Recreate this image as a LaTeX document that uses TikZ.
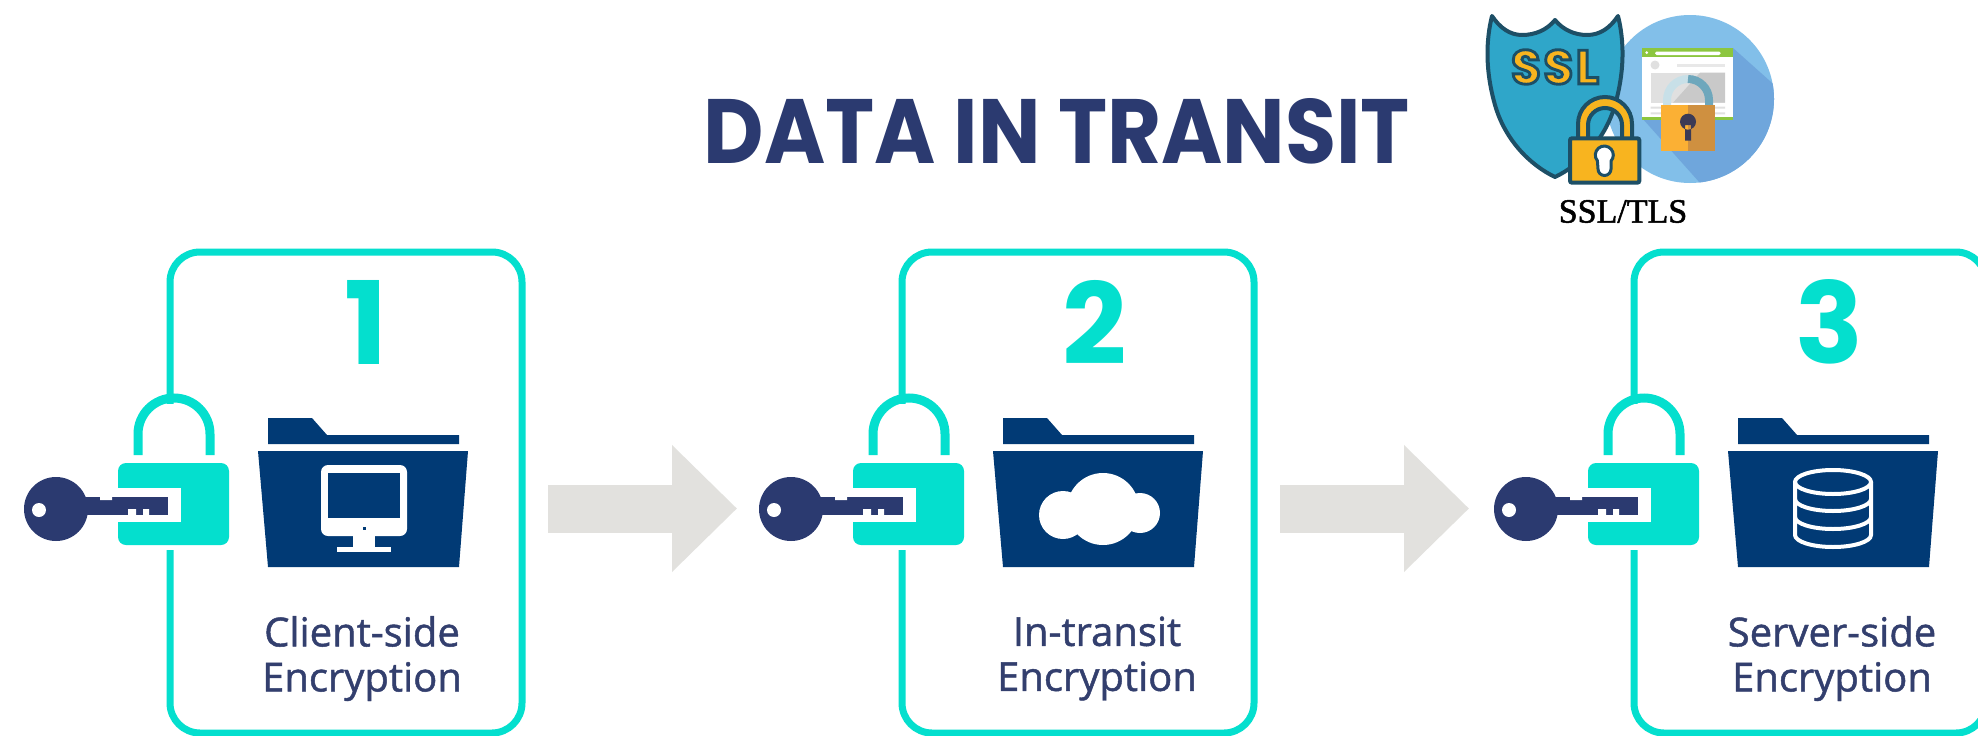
\documentclass[tikz,border=0pt]{standalone}
\usepackage{fontspec}
\usepackage{graphicx}
\usetikzlibrary{arrows.meta}
\setmainfont{Open Sans}
\newfontfamily\headfont{Poppins}
\newfontfamily\sslfont[BoldFeatures={FakeBold=6},LetterSpace=6]{Poppins}
\newfontfamily\labelfont[FakeBold=1.2]{Open Sans}
\newfontfamily\tlsfont[FakeBold=1.5]{Liberation Serif}
\definecolor{teal}{HTML}{04DFCE}
\definecolor{navy}{HTML}{2B3A70}
\definecolor{folder}{HTML}{013A75}
\definecolor{label}{HTML}{333F6E}
\definecolor{flowgray}{HTML}{E2E1DE}
\definecolor{sslblue}{HTML}{2FA6C9}
\definecolor{ssldark}{HTML}{1D4F66}
\definecolor{sslgold}{HTML}{F8B41F}
\definecolor{skyblue}{HTML}{82BFE9}
\definecolor{skyshadow}{HTML}{6FA6DC}
\definecolor{browsergreen}{HTML}{8CC63F}
\definecolor{smallgold}{HTML}{FBB034}
\definecolor{smallbrown}{HTML}{CF9040}
\definecolor{smallhole}{HTML}{3B3A55}
\definecolor{shacklelight}{HTML}{C8E0E8}
\definecolor{shackledark}{HTML}{6EA7BC}
\tikzset{
  cardbox/.style={draw=teal,line width=7pt,rounded corners=30pt,fill=white,inner sep=0pt,minimum width=352pt,minimum height=481pt},
  lockbody/.style={fill=teal,rounded corners=8pt},
  shackle/.style={draw=teal,line width=9pt},
  folderfill/.style={fill=folder},
  iconline/.style={draw=white,line width=4pt},
  labeltext/.style={text=label,font=\fontsize{40}{45}\labelfont,align=center,inner sep=0pt},
  numeral/.style={text=teal,inner sep=0pt},
  flow/.style={draw=flowgray,line width=48pt,-{Triangle[length=65pt,width=123pt]}},
}
% one stage: #1 id, #2 offset of card, #3 offset of lock and folder, #4 numeral, #5 numeral x, #6 label, #7 icon
\newcommand{\stagegroup}[7]{%
  \node[cardbox] (card#1) at (346+#2,492.5) {};
  \node[numeral] (num#1) at (#5,322) {\resizebox{!}{84pt}{\headfont\bfseries #4}};
  \begin{scope}[xshift=#3pt]
    \fill[white] (160,404) rectangle (188,463);
    \draw[shackle] (138,455) -- (138,434) arc[start angle=180,end angle=360,radius=36] -- (210,455);
    \fill[white] (112,458) rectangle (235,550);
    \fill[lockbody] (118,463) rectangle (229,545);
    \fill[white] (112,488) rectangle (181,522);
    \fill[navy] (56,509) circle[radius=32];
    \fill[white] (39,510) circle[radius=7];
    \fill[navy] (85,497) rectangle (168,515);
    \fill[white] (128,509) rectangle (136,515) (143,509) rectangle (149,515) (100,497) rectangle (112,500);
    \fill[folderfill] (268,418) -- (312,418) -- (327,435) -- (459,435) -- (459,444) -- (268,444) -- cycle;
    \fill[folderfill] (258,451) -- (468,451) -- (459,567) -- (268,567) -- cycle;
    #7
    \node[labeltext] (label#1) at (362,658.5) {#6};
  \end{scope}
}
\begin{document}
\begin{tikzpicture}[x=1pt,y=-1pt]
\useasboundingbox (0,0) rectangle (1978,736);
\fill[white] (0,0) rectangle (1978,736);
% title
\node[inner sep=0pt,text=navy] (title) at (1057,131.5) {\resizebox{706pt}{65pt}{\headfont\bfseries DATA IN TRANSIT}};
% stages
\stagegroup{1}{0}{0}{1}{366}{Client-side\\Encryption}{%
  \fill[white,rounded corners=7pt] (321,465) rectangle (407,536);
  \fill[folderfill] (328,473) rectangle (400,518);
  \fill[folderfill] (362.5,526.5) rectangle (365.5,529.5);
  \fill[white] (353,535) rectangle (375,547);
  \fill[white] (337,547) rectangle (391,552);
}
\stagegroup{2}{732}{735}{2}{1095}{In-transit\\Encryption}{%
  \fill[white] (368,509) circle[radius=36] (328,515) circle[radius=24] (405,513) circle[radius=20];
}
\stagegroup{3}{1464}{1470}{3}{1829.5}{Server-side\\Encryption}{%
  \draw[iconline] (325,482) -- (325,535) arc[start angle=180,end angle=0,x radius=38,y radius=12] -- (401,482);
  \draw[iconline] (363,482) ellipse[x radius=38,y radius=12];
  \draw[iconline] (325,499) arc[start angle=180,end angle=0,x radius=38,y radius=12];
  \draw[iconline] (325,517) arc[start angle=180,end angle=0,x radius=38,y radius=12];
}
% connectors
\coordinate (f1a) at (548,508.5);
\coordinate (f1b) at (737,508.5);
\coordinate (f2a) at (1280,508.5);
\coordinate (f2b) at (1469,508.5);
\draw[flow] (f1a) -- (f1b);
\draw[flow] (f2a) -- (f2b);
% SSL icon: browser disc
\fill[skyblue] (1690,99) circle[radius=84];
\begin{scope}
  \clip (1690,99) circle[radius=84];
  \fill[skyshadow] (1642,118) -- (1700,183) -- (1780,183) -- (1780,90) -- (1733,48) -- cycle;
\end{scope}
\fill[white] (1642.3,48.3) rectangle (1733.3,120);
\fill[browsergreen] (1642.3,48.3) rectangle (1733.3,56.7);
\fill[browsergreen] (1642.3,117.3) rectangle (1733.3,120);
\fill[white,rounded corners=1.5pt] (1655,51.7) rectangle (1720.7,55);
\fill[white] (1646.7,52.7) circle[radius=1.5];
\fill[black!12] (1655,65) circle[radius=4.5];
\fill[black!9] (1676.7,63.5) rectangle (1725,66.5);
\fill[black!12] (1650.7,72.7) rectangle (1725,102.7);
\fill[black!21] (1673,102.7) -- (1700,72.7) -- (1725,72.7) -- (1725,102.7) -- cycle;
\fill[black!12] (1650.7,106.5) rectangle (1725,108.5) (1650.7,112.3) rectangle (1725,114.3);
% small padlock
\draw[line width=8pt,draw=shacklelight] (1667,105) -- (1667,100) arc[start angle=180,end angle=270,radius=21];
\draw[line width=8pt,draw=shackledark] (1688,79) arc[start angle=270,end angle=360,radius=21] -- (1709,105);
\fill[smallgold] (1661,105) rectangle (1688,151);
\fill[smallbrown] (1688,105) rectangle (1715,151);
\fill[smallhole] (1688,121.7) circle[radius=8] (1685,125) rectangle (1691,140.7);
% shield
\draw[fill=sslblue,draw=ssldark,line width=4pt,line join=round]
  (1492,16) .. controls (1500,28) and (1510,35) .. (1522,35)
  .. controls (1535,35) and (1547,30) .. (1555,20)
  .. controls (1563,30) and (1575,35) .. (1587,35)
  .. controls (1600,35) and (1610,28) .. (1618,16)
  .. controls (1624,40) and (1625,70) .. (1615,105)
  .. controls (1605,140) and (1580,165) .. (1555,177)
  .. controls (1530,165) and (1505,140) .. (1495,105)
  .. controls (1485,70) and (1486,40) .. (1492,16) -- cycle;
\node[inner sep=0pt,text=sslgold] (ssl) at (1555,67) {\fontsize{48}{48}\sslfont\bfseries\special{pdf:code 0.11 0.31 0.4 RG}SSL};
% front padlock
\draw[fill=sslgold,draw=ssldark,line width=4pt,even odd rule]
  (1578,140) -- (1578,124) arc[start angle=180,end angle=360,radius=27] -- (1632,140) -- cycle
  (1588,140) -- (1588,125) arc[start angle=180,end angle=360,radius=17] -- (1622,140) -- cycle;
\draw[fill=sslgold,draw=ssldark,line width=4pt,rounded corners=2pt] (1570,138.3) rectangle (1639.3,182.7);
\draw[fill=white,draw=ssldark,line width=3pt] (1597.4,160.8) arc[start angle=140,end angle=400,radius=9] -- (1611,169) arc[start angle=0,end angle=180,radius=6.5] -- cycle;
\node[inner sep=0pt,text=black] (tls) at (1623,211.5) {\fontsize{34}{34}\tlsfont SSL/TLS};
\end{tikzpicture}
\end{document}
